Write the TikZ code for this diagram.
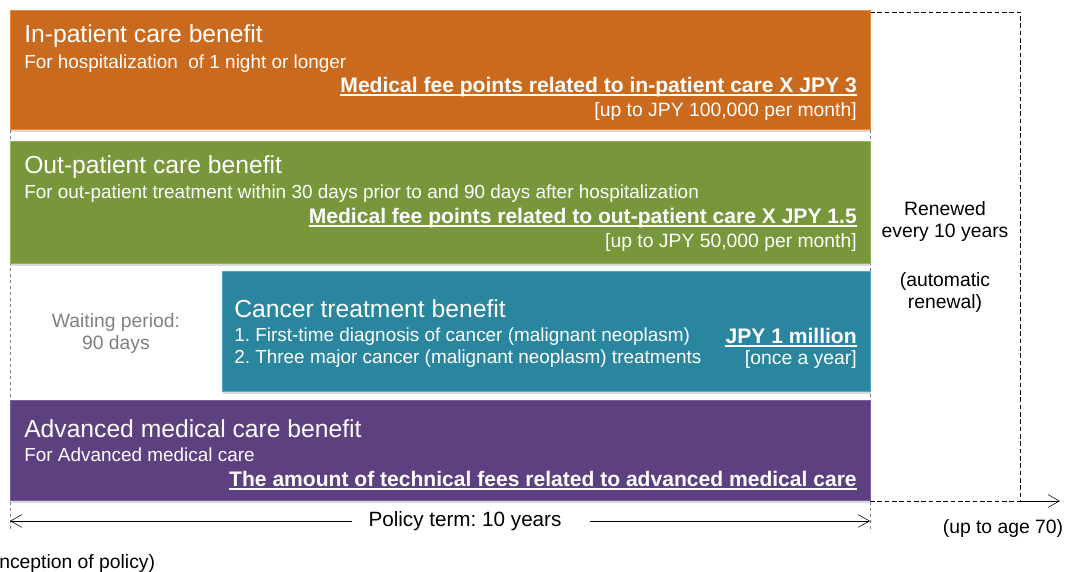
\documentclass[tikz,border=0pt]{standalone}
\usepackage{fontspec}
\setmainfont{Liberation Sans}
\usetikzlibrary{arrows.meta,shadows}
\frenchspacing

\definecolor{inpatfill}{HTML}{C96A1E}
\definecolor{inpatline}{HTML}{EC8A3A}
\definecolor{outpatfill}{HTML}{78963A}
\definecolor{outpatline}{HTML}{92B553}
\definecolor{cancerfill}{HTML}{2A869E}
\definecolor{cancerline}{HTML}{4DAAC4}
\definecolor{advfill}{HTML}{5C4080}
\definecolor{advline}{HTML}{7A60A0}

\tikzset{
  benefit/.style={draw, line width=1pt, anchor=north west, inner sep=0pt,
    drop shadow={shadow xshift=0.5pt, shadow yshift=-2pt, opacity=0.3}},
  title/.style={anchor=base west, inner sep=0pt, text=white, font=\fontsize{18.5}{22}\selectfont},
  detail/.style={anchor=base west, inner sep=0pt, text=white, font=\fontsize{14.2}{17}\selectfont},
  amount/.style={anchor=base east, inner sep=0pt, text=white, font=\bfseries\fontsize{15.8}{18}\selectfont},
  limit/.style={anchor=base east, inner sep=0pt, text=white, font=\fontsize{14.5}{17}\selectfont},
  note/.style={align=center, inner sep=0pt, font=\fontsize{14.5}{16.5}\selectfont},
  uline/.style={white, line width=1.3pt},
  barb/.style={-{Straight Barb[length=8.5pt,width=9.5pt]}},
}

\begin{document}
\begin{tikzpicture}[x=0.75pt, y=-0.75pt]
\useasboundingbox (0,0) rectangle (1067,571);

% Guide lines
\draw[gray, dash pattern=on 2.5pt off 2pt] (10,10) -- (10,532);
\draw[gray, dash pattern=on 2.5pt off 2pt] (870,10) -- (870,532);
\draw[dash pattern=on 3.5pt off 2pt] (870,12) -- (1020,12) -- (1020,501);
\draw[dash pattern=on 3.5pt off 2pt] (870,501) -- (1020,501);
\coordinate (renewend) at (1060,501);
\draw[barb] (1020,501) -- (renewend);

% Benefit boxes
\node[benefit, fill=inpatfill, draw=inpatline, minimum width=645pt, minimum height=89pt] (inpat) at (10,10) {};
\node[benefit, fill=outpatfill, draw=outpatline, minimum width=645pt, minimum height=91.5pt] (outpat) at (10,141) {};
\node[benefit, fill=cancerfill, draw=cancerline, minimum width=486pt, minimum height=90pt] (cancer) at (222,271) {};
\node[benefit, fill=advfill, draw=advline, minimum width=645pt, minimum height=75pt] (advmed) at (10,400) {};

% In-patient care
\node[title] (inpattitle) at (24,42) {In-patient care benefit};
\node[detail] (inpatfor) at (24,68) {For hospitalization\ \ of 1 night or longer};
\node[amount] (inpatamt) at (857,92) {Medical fee points related to in-patient care X JPY 3};
\draw[uline] ([yshift=-2.5pt]inpatamt.base west) -- ([yshift=-2.5pt]inpatamt.base east);
\node[limit] (inpatlim) at (857,116) {[up to JPY 100,000 per month]};

% Out-patient care
\node[title] (outpattitle) at (24,173) {Out-patient care benefit};
\node[detail] (outpatfor) at (24,198) {For out-patient treatment within 30 days prior to and 90 days after hospitalization};
\node[amount] (outpatamt) at (857,223) {Medical fee points related to out-patient care X JPY 1.5};
\draw[uline] ([yshift=-2.5pt]outpatamt.base west) -- ([yshift=-2.5pt]outpatamt.base east);
\node[limit] (outpatlim) at (857,247) {[up to JPY 50,000 per month]};

% Cancer treatment
\node[title] (cancertitle) at (234,317) {Cancer treatment benefit};
\node[detail] (cancerone) at (234,341) {1. First-time diagnosis of cancer (malignant neoplasm)};
\node[detail] (cancertwo) at (234,363) {2. Three major cancer (malignant neoplasm) treatments};
\node[amount] (canceramt) at (857,343) {JPY 1 million};
\draw[uline] ([yshift=-2.5pt]canceramt.base west) -- ([yshift=-2.5pt]canceramt.base east);
\node[limit] (cancerlim) at (857,364) {[once a year]};
\node[note, text=gray] (waiting) at (116,333) {Waiting period:\\90 days};

% Advanced medical care
\node[title] (advtitle) at (24,437) {Advanced medical care benefit};
\node[detail] (advfor) at (24,461) {For Advanced medical care};
\node[amount] (advamt) at (857,486) {The amount of technical fees related to advanced medical care};
\draw[uline] ([yshift=-2.5pt]advamt.base west) -- ([yshift=-2.5pt]advamt.base east);

% Renewal
\node[note] (renew) at (945,221) {Renewed\\every 10 years};
\node[note] (automatic) at (945,292) {(automatic\\renewal)};
\node[note] (agelimit) at (1003,528) {(up to age 70)};

% Policy term
\node[note, font=\fontsize{15.5}{18}\selectfont] (term) at (465,521) {Policy term: 10 years};
\coordinate (termstart) at (10,521);
\coordinate (termend) at (870,521);
\draw[barb] ([xshift=-12pt]term.west) -- (termstart);
\draw[barb] ([xshift=21pt]term.east) -- (termend);
\node[anchor=base west, inner sep=0pt, font=\fontsize{14.5}{17}\selectfont] (inception) at (-1,568) {nception of policy)};

\end{tikzpicture}
\end{document}
